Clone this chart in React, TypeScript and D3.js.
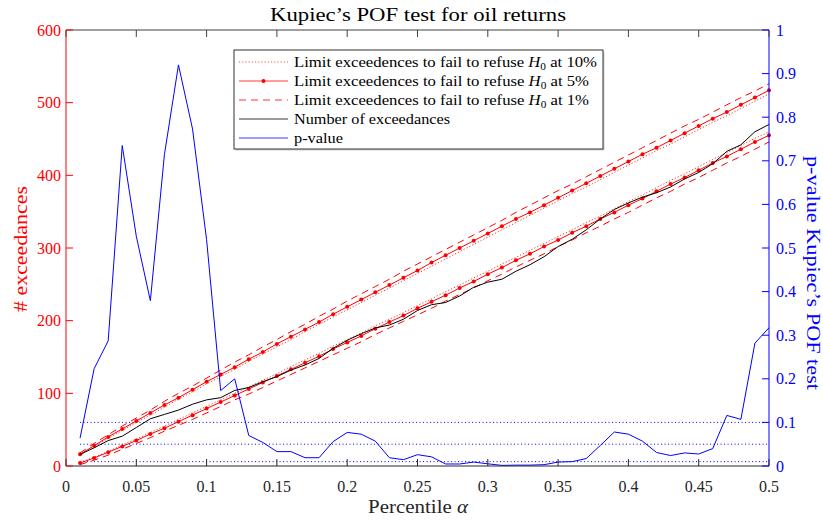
import React from 'react';
import * as d3 from 'd3';

const alphas = [0.01,0.02,0.03,0.04,0.05,0.06,0.07,0.08,0.09,0.10,0.11,0.12,0.13,0.14,0.15,0.16,0.17,0.18,0.19,0.20,0.21,0.22,0.23,0.24,0.25,0.26,0.27,0.28,0.29,0.30,0.31,0.32,0.33,0.34,0.35,0.36,0.37,0.38,0.39,0.40,0.41,0.42,0.43,0.44,0.45,0.46,0.47,0.48,0.49,0.50];
const lower10 = [5,12,20,29,37,46,55,64,73,82,91,100,109,118,127,137,146,155,165,174,183,193,202,211,221,230,240,249,259,268,278,287,297,306,316,325,335,344,354,364,373,383,393,402,412,422,431,441,451,460];
const upper10 = [15,27,38,49,60,70,81,92,102,113,123,133,144,154,164,174,185,195,205,215,225,235,245,255,265,275,285,295,305,315,325,335,345,355,365,375,384,394,404,414,424,434,443,453,463,473,482,492,502,512];
const lower5 = [4,11,19,27,35,44,52,61,70,79,88,97,106,115,124,133,142,151,161,170,179,189,198,207,217,226,235,245,254,264,273,283,292,302,311,321,330,340,349,359,368,378,388,397,407,417,426,436,446,455];
const upper5 = [16,28,40,51,62,73,84,94,105,116,126,136,147,157,168,178,188,198,209,219,229,239,249,259,269,280,290,300,310,320,330,340,349,359,369,379,389,399,409,419,429,438,448,458,468,478,487,497,507,517];
const lower1 = [2,8,15,23,31,39,48,56,64,73,82,91,99,108,117,126,135,144,153,162,171,181,190,199,208,217,227,236,245,255,264,274,283,292,302,311,321,330,340,349,359,369,378,388,397,407,417,426,436,446];
const upper1 = [18,31,43,55,66,77,89,100,110,121,132,143,153,164,174,185,195,206,216,227,237,247,257,268,278,288,298,308,318,328,338,349,359,369,379,388,398,408,418,428,438,448,458,468,477,487,497,507,516,526];
const exceedances = [16,25,35,41,53,65,71,77,85,91,94,104,108,116,123,132,139,148,162,173,182,190,194,202,214,222,225,234,246,253,257,268,277,288,302,312,325,340,353,362,370,376,384,395,404,416,433,442,460,470];
const pValues = [0.064,0.223,0.287,0.735,0.527,0.379,0.714,0.920,0.773,0.519,0.173,0.200,0.070,0.054,0.033,0.033,0.019,0.019,0.056,0.077,0.073,0.057,0.019,0.0145,0.026,0.021,0.0046,0.0046,0.009,0.005,0.0014,0.002,0.002,0.003,0.009,0.010,0.017,0.047,0.078,0.073,0.057,0.031,0.024,0.030,0.0275,0.040,0.116,0.107,0.282,0.317];
const significance = [0.1, 0.05, 0.01];
const xTicks = [0,0.05,0.1,0.15,0.2,0.25,0.3,0.35,0.4,0.45,0.5];
const xTickLabels = ['0','0.05','0.1','0.15','0.2','0.25','0.3','0.35','0.4','0.45','0.5'];
const leftTicks = [0,100,200,300,400,500,600];
const rightTicks = [0,0.1,0.2,0.3,0.4,0.5,0.6,0.7,0.8,0.9,1];
const rightTickLabels = ['0','0.1','0.2','0.3','0.4','0.5','0.6','0.7','0.8','0.9','1'];

const W = 823, H = 521;
const L = 66, R = 769, T = 30, B = 466;
const FONT = "'Liberation Serif', 'Times New Roman', serif";

export default function App() {
  const x = d3.scaleLinear().domain([0, 0.5]).range([L, R]);
  const yL = d3.scaleLinear().domain([0, 600]).range([B, T]);
  const yR = d3.scaleLinear().domain([0, 1]).range([B, T]);
  const lineL = (vals: number[]) =>
    d3.line<number>().x((_, i) => x(alphas[i])).y(d => yL(d))(vals) || '';
  const lineR = d3.line<number>().x((_, i) => x(alphas[i])).y(d => yR(d))(pValues) || '';
  const tickLen = 7;
  const legendRows = [
    { label: '10%', dash: '1.2 2', color: '#ff8a8a', marker: false, len: 303 },
    { label: '5%', dash: '', color: '#ff7a7a', marker: true, len: 295 },
    { label: '1%', dash: '7 5', color: '#ff7a7a', marker: false, len: 295 },
  ];
  const lgX = 234, lgY = 50, lgW = 369, lgH = 99;
  const rowY = (i: number) => 62 + i * 19;
  return (
    <svg width={W} height={H} style={{ position: 'absolute', left: 0, top: 0, background: '#fff' }} fontFamily={FONT}>
      <rect x={0} y={0} width={W} height={H} fill="#fff" />
      <text x={418} y={21} textAnchor="middle" fontSize={18.5} textLength={296} lengthAdjust="spacingAndGlyphs">Kupiec’s POF test for oil returns</text>
      {significance.map(s => (
        <line key={s} x1={x(alphas[0])} x2={R} y1={yR(s)} y2={yR(s)} stroke="#0000ff" strokeWidth={1} strokeDasharray="1 2.5" />
      ))}
      <path d={lineL(upper10)} fill="none" stroke="#ff3030" strokeWidth={1} strokeDasharray="1.2 2" />
      <path d={lineL(lower10)} fill="none" stroke="#ff3030" strokeWidth={1} strokeDasharray="1.2 2" />
      <path d={lineL(upper1)} fill="none" stroke="#ff0000" strokeWidth={1} strokeDasharray="7 5" />
      <path d={lineL(lower1)} fill="none" stroke="#ff0000" strokeWidth={1} strokeDasharray="7 5" />
      <path d={lineL(upper5)} fill="none" stroke="#ff0000" strokeWidth={1} />
      <path d={lineL(lower5)} fill="none" stroke="#ff0000" strokeWidth={1} />
      {upper5.map((v, i) => <circle key={'u' + i} cx={x(alphas[i])} cy={yL(v)} r={2} fill="#ff0000" />)}
      {lower5.map((v, i) => <circle key={'l' + i} cx={x(alphas[i])} cy={yL(v)} r={2} fill="#ff0000" />)}
      <path d={lineL(exceedances)} fill="none" stroke="#000" strokeWidth={1} />
      <path d={lineR} fill="none" stroke="#0000ff" strokeWidth={1} />
      <line x1={L} x2={R} y1={T} y2={T} stroke="#404040" strokeWidth={1} />
      <line x1={L} x2={R} y1={B} y2={B} stroke="#262626" strokeWidth={1} />
      <line x1={L} x2={L} y1={T} y2={B} stroke="#ff0000" strokeWidth={1} />
      <line x1={R} x2={R} y1={T} y2={B} stroke="#0000ff" strokeWidth={1} />
      {xTicks.map((t, i) => (
        <g key={'xt' + i}>
          <line x1={x(t)} x2={x(t)} y1={B} y2={B - tickLen} stroke="#262626" />
          <line x1={x(t)} x2={x(t)} y1={T} y2={T + tickLen} stroke="#404040" />
          <text x={x(t)} y={492} textAnchor="middle" fontSize={16} fill="#262626">{xTickLabels[i]}</text>
        </g>
      ))}
      {leftTicks.map(t => (
        <g key={'yl' + t}>
          <line x1={L} x2={L + tickLen} y1={yL(t)} y2={yL(t)} stroke="#ff0000" />
          <text x={61} y={yL(t) + 5.5} textAnchor="end" fontSize={16} fill="#ff0000">{t}</text>
        </g>
      ))}
      {rightTicks.map((t, i) => (
        <g key={'yr' + i}>
          <line x1={R} x2={R - tickLen} y1={yR(t)} y2={yR(t)} stroke="#0000ff" />
          <text x={776} y={yR(t) + 5.5} textAnchor="start" fontSize={16} fill="#0000ff">{rightTickLabels[i]}</text>
        </g>
      ))}
      <text x={418} y={513} textAnchor="middle" fontSize={18} fill="#262626" textLength={100} lengthAdjust="spacingAndGlyphs">Percentile <tspan fontStyle="italic">α</tspan></text>
      <text transform={`translate(27, 249) rotate(-90)`} textAnchor="middle" fontSize={18} fill="#ff0000" textLength={126} lengthAdjust="spacingAndGlyphs"># exceedances</text>
      <text transform={`translate(807, 273) rotate(90)`} textAnchor="middle" fontSize={19} fill="#0000ff" textLength={234} lengthAdjust="spacingAndGlyphs">p-value Kupiec’s POF test</text>
      <rect x={lgX + 1.5} y={lgY + 1.5} width={lgW} height={lgH} fill="#d0d0d0" />
      <rect x={lgX} y={lgY} width={lgW} height={lgH} fill="#fff" stroke="#333" strokeWidth={1} />
      {legendRows.map((r, i) => (
        <g key={'lg' + i}>
          <line x1={239} x2={288} y1={rowY(i)} y2={rowY(i)} stroke={r.color} strokeWidth={1.6} strokeDasharray={r.dash || undefined} />
          {r.marker && <circle cx={263.5} cy={rowY(i)} r={2} fill="#ff0000" />}
          <text x={294} y={rowY(i) + 5} fontSize={15.5} textLength={r.len} lengthAdjust="spacingAndGlyphs">Limit exceedences to fail to refuse <tspan fontStyle="italic">H</tspan><tspan fontSize={10.5} dy={3}>0</tspan><tspan dy={-3}> at {r.label}</tspan></text>
        </g>
      ))}
      <line x1={239} x2={288} y1={rowY(3)} y2={rowY(3)} stroke="#7a7a7a" strokeWidth={1.6} />
      <text x={294} y={rowY(3) + 5} fontSize={15.5} textLength={156} lengthAdjust="spacingAndGlyphs">Number of exceedances</text>
      <line x1={239} x2={288} y1={rowY(4)} y2={rowY(4)} stroke="#7a7aff" strokeWidth={1.6} />
      <text x={294} y={rowY(4) + 5} fontSize={15.5} textLength={49} lengthAdjust="spacingAndGlyphs">p-value</text>
    </svg>
  );
}
